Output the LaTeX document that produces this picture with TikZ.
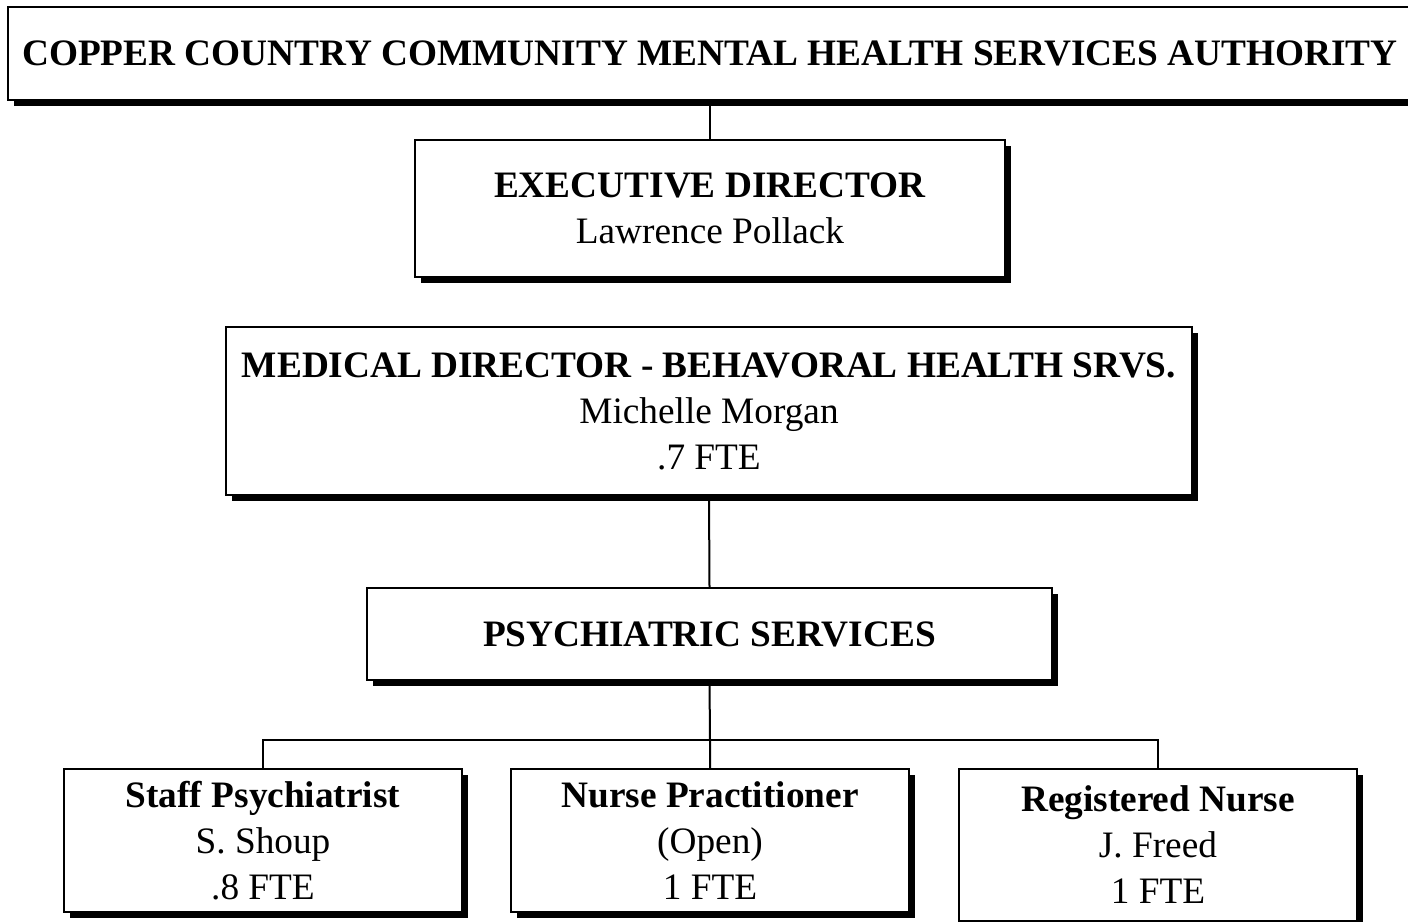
\documentclass[tikz,border=0pt]{standalone}
\usepackage{fontspec}
\setmainfont{Liberation Serif}
\usepackage{tikz}
\usetikzlibrary{positioning}
\usetikzlibrary{shadows}
\usetikzlibrary{calc}
\tikzstyle{post}=[draw,fill=white,line width=1pt,align=center,inner sep=0pt,
  drop shadow={shadow xshift=2.8pt,shadow yshift=-2.8pt,fill=black,opacity=1}]
\tikzstyle{link}=[line width=1pt]

\begin{document}
\begin{tikzpicture}[
  x=0.5pt, y=-0.5pt,
  every node/.style={font=\fontsize{18.65}{23}\selectfont},
  top post/.style={post,minimum width=702pt,minimum height=46.5pt},
  staff post/.style={post,minimum width=199pt,minimum height=71.5pt},
]
  \useasboundingbox (0,0) rectangle (1408,921);
  \node[top post] (auth) at (710,53.5) {\textbf{COPPER COUNTRY COMMUNITY MENTAL HEALTH SERVICES AUTHORITY}};
  \node[post,minimum width=295pt,minimum height=68.5pt] (exec) at (710,208.5)
    {\textbf{EXECUTIVE DIRECTOR}\\ Lawrence Pollack};
  \node[post,minimum width=483pt,minimum height=84pt] (med) at (709,411)
    {\textbf{MEDICAL DIRECTOR - BEHAVORAL HEALTH SRVS.}\\ Michelle Morgan\\ .7 FTE};
  \node[post,minimum width=342.5pt,minimum height=46pt] (psych) at (709.5,634)
    {\textbf{PSYCHIATRIC SERVICES}};
  \node[staff post] (staff) at (263,840.5) {\textbf{Staff Psychiatrist}\\ S. Shoup\\ .8 FTE};
  \node[staff post] (np) at (710,840.5) {\textbf{Nurse Practitioner}\\ (Open)\\ 1 FTE};
  \node[staff post,minimum height=76pt] (rn) at (1158,845) {\textbf{Registered Nurse}\\ J. Freed\\ 1 FTE};
  \coordinate (bus) at (710,740);

  \draw[link] (auth.south) -- (exec.north);
  \draw[link] (med.south) -- (psych.north);
  \draw[link] (psych.south) -- (bus) -- (np.north);
  \draw[link] (staff.north) |- (bus) -| (rn.north);
\end{tikzpicture}
\end{document}
